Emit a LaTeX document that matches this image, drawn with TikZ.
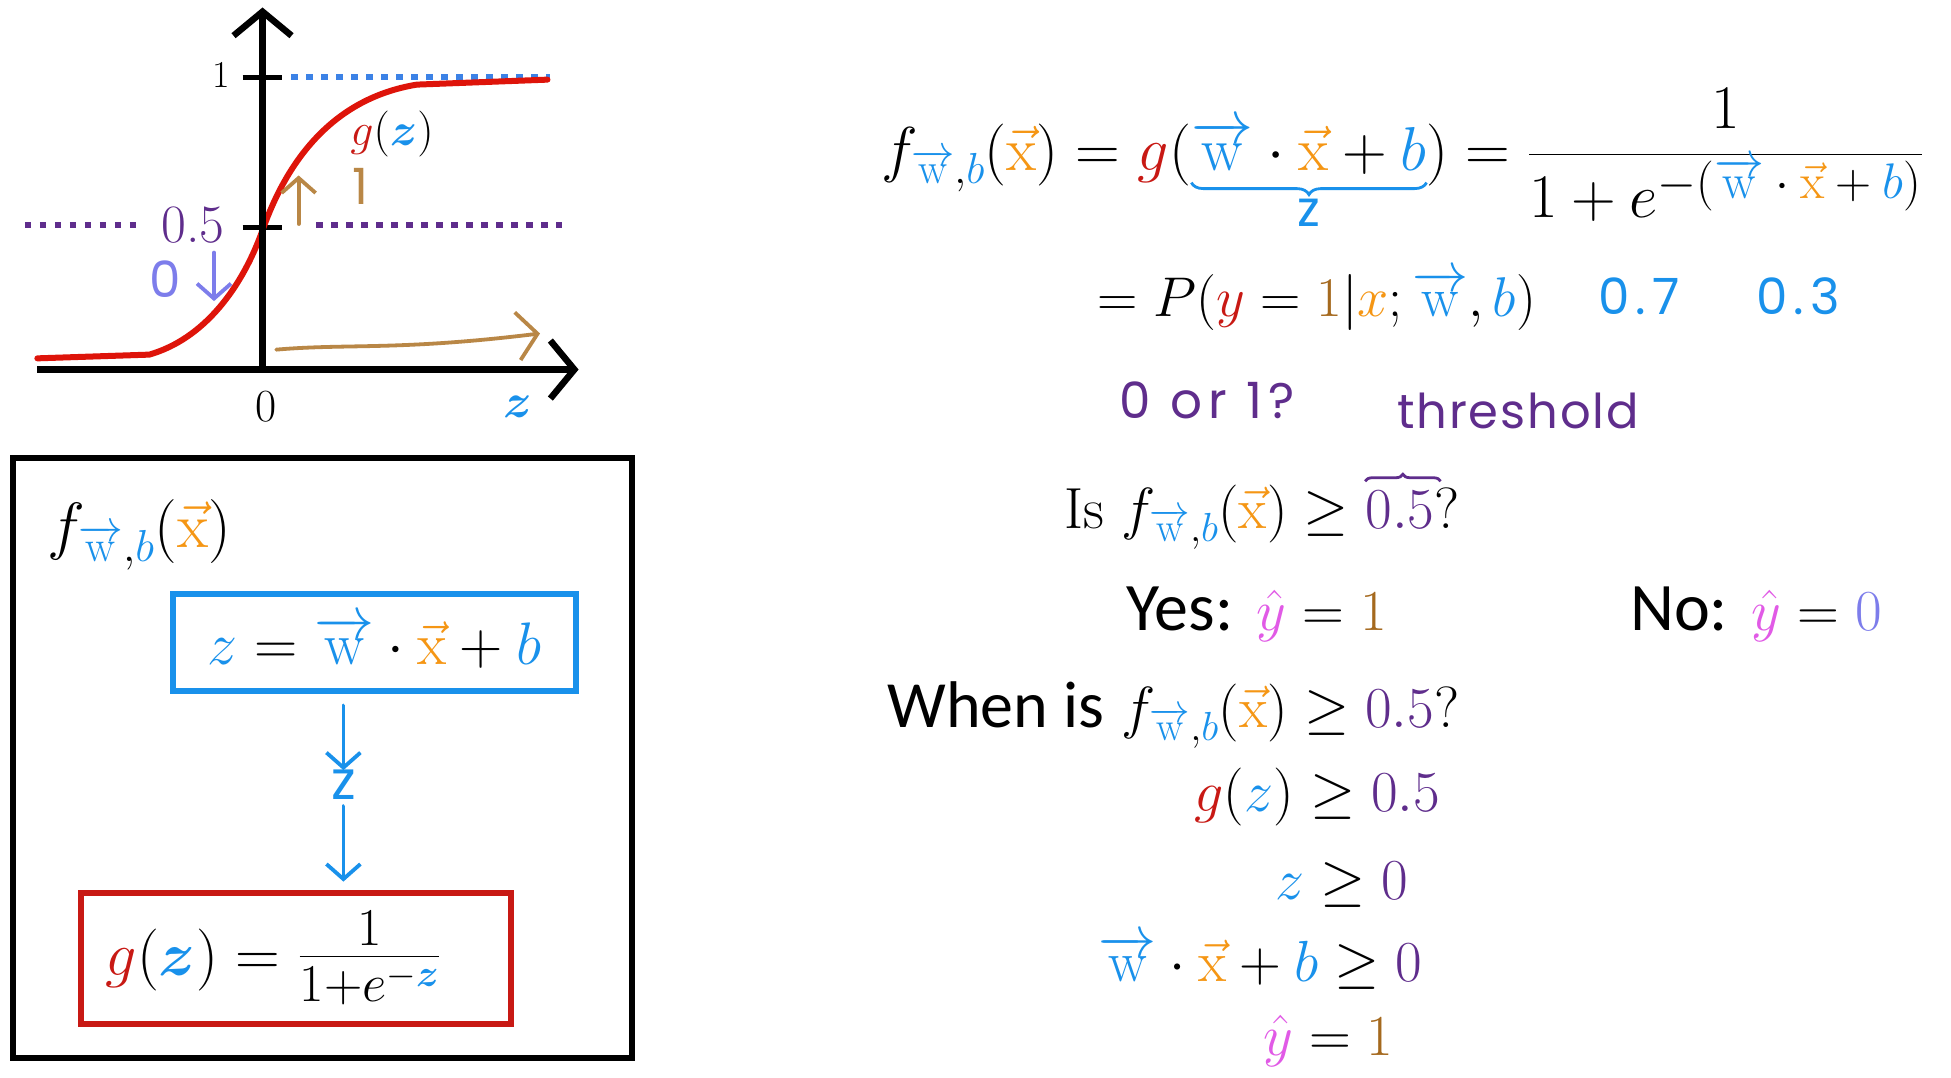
\RequirePackage{fix-cm}
\documentclass[tikz,border=0pt]{standalone}
\usepackage{amsmath}
\usepackage{fontspec}
\newfontfamily\calib{Carlito}
\newfontfamily\hand{Poppins}
\usetikzlibrary{arrows.meta,decorations.pathreplacing,calc}
\definecolor{cblue}{RGB}{25,145,235}
\definecolor{corange}{RGB}{245,150,20}
\definecolor{cred}{RGB}{200,25,20}
\definecolor{curvered}{RGB}{222,20,10}
\definecolor{cpurple}{RGB}{95,45,140}
\definecolor{cbrown}{RGB}{165,105,30}
\definecolor{cmag}{RGB}{225,90,230}
\definecolor{clav}{RGB}{125,125,235}
\definecolor{hbrown}{RGB}{185,135,70}
\definecolor{dotblue}{RGB}{60,130,230}
\newcommand\fsz[1]{\fontsize{#1}{#1}\selectfont}
\newcommand\vW{{\color{cblue}\overrightarrow{\mathrm{w}}}}
\newcommand\vX{{\color{corange}\vec{\mathrm{x}}}}
\newcommand\bB{{\color{cblue}b}}
\newcommand\fwb{f_{\vW,\bB}(\vX)}
\tikzset{
  lbl/.style={inner sep=0pt},
  ax/.style={line width=6.5pt,-{Straight Barb[length=24pt,width=58pt,line width=6.5pt]}},
  tick/.style={line width=5pt},
  dots/.style={line width=6.5pt,dash pattern=on 6.5pt off 8.5pt},
  harr/.style={line width=3.8pt,line cap=round,-{Straight Barb[length=15pt,width=34pt,line width=3.8pt]}},
  boxed/.style={line width=6pt,inner sep=0pt},
  hbrace/.style={line width=2.8pt,decorate},
  hw/.style={inner sep=0pt,font=\hand\addfontfeature{LetterSpace=12}\fsz{50}},
}
\begin{document}
\begin{tikzpicture}[x=1.24426pt,y=-1.24426pt]
\fill[white] (0,0) rectangle (1568,866);
\useasboundingbox (0,0) rectangle (1568,866);

% ---------- graph ----------
\coordinate (xl) at (30,297);
\coordinate (xr) at (465,297);
\coordinate (yb) at (211,297);
\coordinate (yt) at (211,6);
\coordinate (t1) at (211,62);
\coordinate (t5) at (211,183);
\draw[dots,dotblue] (234,62) -- (442,62);
\draw[dots,cpurple] (20,181) -- (112,181);
\draw[dots,cpurple] (254,181) -- (452,181);
\draw[tick] ($(t1)+(-16,0)$) -- ($(t1)+(16,0)$);
\draw[tick] ($(t5)+(-16,0)$) -- ($(t5)+(16,0)$);
\draw[line width=6pt,curvered,line cap=round]
  (30,288) -- (120,285) .. controls (165,272) and (195,230) .. (211,185)
  .. controls (228,137) and (262,80) .. (335,68) -- (440,64);
\draw[ax] (yb) -- (yt);
\draw[ax] (xl) -- (xr);
\node[lbl,font=\fsz{38}] (one) at (178,60) {1};
\node[lbl,font=\fsz{54},text=cpurple] (half) at (155,181) {0.5};
\node[lbl,font=\fsz{46}] (zero) at (214,327) {0};
\node[lbl,font=\fsz{48}] (zax) at (416,327) {$\color{cblue}\boldsymbol{z}$};
\node[lbl,font=\fsz{46}] (gz) at (315,108) {${\color{cred}g}({\color{cblue}\boldsymbol{z}})$};
\coordinate (ua) at (240,180);
\coordinate (ub) at (240,141);
\draw[harr,hbrown] (ua) -- (ub);
\node[hw,text=hbrown] (hone) at (290,150) {1};
\node[hw,text=clav] (hzero) at (133,224) {0};
\coordinate (da) at (172,203);
\coordinate (db) at (172,242);
\draw[harr,clav] (da) -- (db);
\coordinate (ra) at (222,281);
\coordinate (rb) at (434,268);
\draw[harr,hbrown,-{Straight Barb[length=20pt,width=48pt,line width=3.8pt]}] (ra) .. controls (280,276) and (320,282) .. (rb);

% ---------- left box ----------
\node[draw,line width=6pt,minimum width=619pt,minimum height=600pt] (outer) at (259,609) {};
\node[lbl,anchor=base west,font=\fsz{64}] (fbox) at (38,440) {$\fwb$};
\node[boxed,draw=cblue,minimum width=403pt,minimum height=97pt,font=\fsz{60}] (zbox) at (301,516)
  {${\color{cblue}z} = \vW\cdot\vX+\bB$};
\node[hw,font=\hand\fsz{54},text=cblue] (zmid) at (276,631) {z};
\node[boxed,draw=cred,minimum width=430pt,minimum height=131pt,font=\fsz{62}] (gbox) at (238,770)
  {${\color{cred}g}({\color{cblue}\boldsymbol{z}}) = $ {\fsz{76}$\frac{1}{1+e^{-{\color{cblue}\boldsymbol{z}}}}$}\hspace*{46pt}};
\draw[harr,cblue] ([yshift=-12pt]zmid.north |- zbox.south) -- ([yshift=0pt]zmid.north);
\draw[harr,cblue] ([yshift=-6pt]zmid.south) -- ([yshift=8pt]zmid.south |- gbox.north);

% ---------- right side ----------
\node[lbl,anchor=base west,font=\fsz{62}] (mainl) at (708,137)
  {$\fwb = {\color{cred}g}($};
\node[lbl,anchor=base west,font=\fsz{62}] (marg) at (mainl.base east)
  {$\vW\cdot\vX+\bB$};
\node[lbl,anchor=base west,font=\fsz{62}] (mainr) at (marg.base east)
  {$) = \dfrac{1}{1+e^{\text{\fsz{50}$-(\vW\cdot\vX+\bB)$}}}$};
\draw[hbrace,cblue,decoration={brace,amplitude=12pt,mirror}]
  ([yshift=-8pt]marg.south west) -- ([yshift=-8pt]marg.south east);
\node[hw,font=\hand\fsz{50},text=cblue,anchor=north] (zb) at ([yshift=-24pt]marg.south) {z};

\node[lbl,anchor=base west,font=\fsz{56}] (prob) at (882,254)
  {$= P({\color{cred}y} = {\color{cbrown}1}|{\color{corange}x};\vW,\bB)$};
\node[hw,text=cblue] (p7) at (1317,238) {0.7};
\node[hw,text=cblue] (p3) at (1445,238) {0.3};

\node[hw,text=cpurple] (orq) at (970,322) {0 or 1?};
\node[hw,font=\hand\addfontfeature{LetterSpace=4}\fsz{48},text=cpurple] (thr) at (1220,330) {threshold};

\node[lbl,anchor=base west,font=\fsz{58}] (isq) at (855,425)
  {Is $\fwb \geq{}$};
\node[lbl,anchor=base west,font=\fsz{58},text=cpurple] (half2) at (isq.base east) {$0.5$};
\node[lbl,anchor=base west,font=\fsz{58}] (isqm) at (half2.base east) {?};
\draw[hbrace,cpurple,decoration={brace,amplitude=7pt}]
  ([yshift=10pt]half2.north west) -- ([yshift=10pt,xshift=6pt]half2.north east);

\node[lbl,anchor=base west,font=\fsz{58}] (yes) at (905,507)
  {{\calib\fsz{68}Yes:} ${\color{cmag}\hat{y}} = {\color{cbrown}1}$};
\node[lbl,anchor=base west,font=\fsz{58}] (no) at (1310,507)
  {{\calib\fsz{68}No:} ${\color{cmag}\hat{y}} = {\color{clav}0}$};
\node[lbl,anchor=base west,font=\fsz{58}] (when) at (713,585)
  {{\calib\fsz{66}When is} $\fwb \geq {\color{cpurple}0.5}$?};
\node[lbl,anchor=base west,font=\fsz{58}] (l1) at (960,652)
  {${\color{cred}g}({\color{cblue}z}) \geq {\color{cpurple}0.5}$};
\node[lbl,anchor=base west,font=\fsz{58}] (l2) at (1025,723)
  {${\color{cblue}z} \geq {\color{cpurple}0}$};
\node[lbl,anchor=base west,font=\fsz{58}] (l3) at (883,789)
  {$\vW\cdot\vX + \bB \geq {\color{cpurple}0}$};
\node[lbl,anchor=base west,font=\fsz{58}] (l4) at (1015,848)
  {${\color{cmag}\hat{y}} = {\color{cbrown}1}$};
\end{tikzpicture}
\end{document}
